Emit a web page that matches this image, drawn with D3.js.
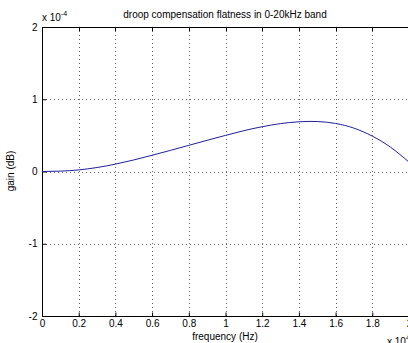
<!DOCTYPE html>
<html><head><meta charset="utf-8">
<script src="https://cdn.jsdelivr.net/npm/d3@7"></script>
<style>body{margin:0;background:#fff;}svg{display:block;font-family:Arial,"Liberation Sans",Helvetica,sans-serif;}</style>
</head><body>
<script>
const freq = [0,0.1,0.2,0.3,0.4,0.5,0.6,0.7,0.8,0.9,1.0,1.1,1.2,1.3,1.4,1.5,1.6,1.7,1.8,1.9,2.0];
const gain = [0,0.005,0.022,0.055,0.102,0.16,0.225,0.292,0.362,0.432,0.50,0.565,0.62,0.663,0.688,0.692,0.665,0.6,0.49,0.335,0.13];
const xTicks = [0,0.2,0.4,0.6,0.8,1,1.2,1.4,1.6,1.8,2];
const yTicks = [-2,-1,0,1,2];
const title = "droop compensation flatness in 0-20kHz band";
const xLabel = "frequency (Hz)";
const yLabel = "gain (dB)";

const W=408,H=343;
const L=42,T=27,R=409,B=316;
const svg=d3.select("body").append("svg").attr("width",W).attr("height",H);
const x=d3.scaleLinear().domain([0,2]).range([L,R]);
const y=d3.scaleLinear().domain([-2,2]).range([B,T]);
const fmt=d=>String(d);

// grid
const g=svg.append("g");
g.selectAll(".gx").data(xTicks.slice(1,-1)).enter().append("line")
 .attr("x1",d=>Math.round(x(d))+0.5).attr("x2",d=>Math.round(x(d))+0.5)
 .attr("y1",T).attr("y2",B).attr("stroke","#666").attr("stroke-dasharray","1,3");
g.selectAll(".gy").data(yTicks.slice(1,-1)).enter().append("line")
 .attr("y1",d=>Math.round(y(d))+0.5).attr("y2",d=>Math.round(y(d))+0.5)
 .attr("x1",L).attr("x2",R).attr("stroke","#666").attr("stroke-dasharray","1,3");

// frame
svg.append("rect").attr("x",L+0.5).attr("y",T+0.5).attr("width",R-L).attr("height",B-T)
 .attr("fill","none").attr("stroke","#000");

// ticks inward
const xa=d3.axisBottom(x).tickValues(xTicks).tickSize(-4).tickPadding(3).tickFormat(fmt);
const xg=svg.append("g").attr("transform",`translate(0,${B+0.5})`).call(xa);
const ya=d3.axisLeft(y).tickValues(yTicks).tickSize(-4).tickPadding(5).tickFormat(fmt);
const yg=svg.append("g").attr("transform",`translate(${L+0.5},0)`).call(ya);
[xg,yg].forEach(a=>{a.select(".domain").remove();a.selectAll("line").attr("stroke","#000");
 a.selectAll("text").attr("font-size",10).attr("fill","#000").attr("font-family","Arial,'Liberation Sans',sans-serif");});
// top ticks
svg.append("g").selectAll("line").data(xTicks).enter().append("line")
 .attr("x1",d=>Math.round(x(d))+0.5).attr("x2",d=>Math.round(x(d))+0.5).attr("y1",T).attr("y2",T+4).attr("stroke","#000");

// curve
const line=d3.line().x((d,i)=>x(freq[i])).y(d=>y(d)).curve(d3.curveNatural);
svg.append("path").datum(gain).attr("d",line).attr("fill","none").attr("stroke","#1f1f9e").attr("stroke-width",1);

// texts
svg.append("text").attr("x",225).attr("y",18).attr("text-anchor","middle").attr("font-size",10).text(title);
svg.append("text").attr("x",225).attr("y",340).attr("text-anchor","middle").attr("font-size",10).text(xLabel);
svg.append("text").attr("transform","translate(14,171) rotate(-90)").attr("text-anchor","middle").attr("font-size",10).text(yLabel);
const e1=svg.append("text").attr("x",42).attr("y",21).attr("font-size",10);
e1.append("tspan").text("x 10");
e1.append("tspan").attr("dy",-5).attr("font-size",7).text("-4");
const e2=svg.append("text").attr("x",387).attr("y",345).attr("font-size",10);
e2.append("tspan").text("x 10");
e2.append("tspan").attr("dy",-5).attr("font-size",7).text("4");
</script>
</body></html>
